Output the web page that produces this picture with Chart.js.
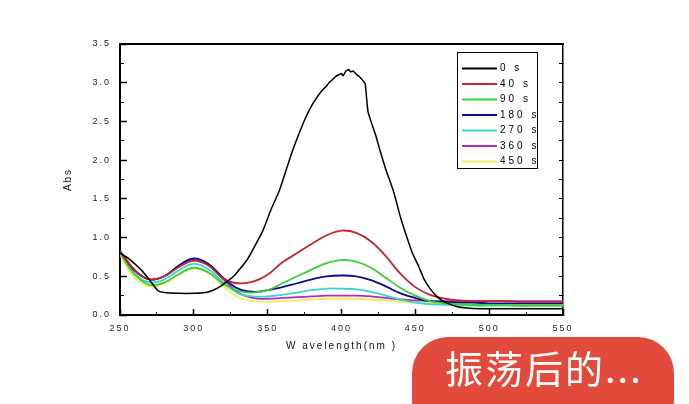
<!DOCTYPE html>
<html>
<head>
<meta charset="utf-8">
<script src="https://cdn.jsdelivr.net/npm/chart.js@4/dist/chart.umd.min.js"></script>
<style>
  html, body { margin: 0; padding: 0; background: #fff; }
  #wrap { position: relative; width: 689px; height: 404px; overflow: hidden; }
  #badge {
    position: absolute; left: 412px; top: 337px; width: 262px; height: 100px;
    border-radius: 36px; background: #e24b3b; color: #fff;
    font-family: "Noto Sans CJK SC", sans-serif; font-size: 38px;
    line-height: 46px; padding: 7px 0 0 33px; box-sizing: border-box;
    letter-spacing: 2px; white-space: nowrap;
  }
</style>
</head>
<body>
<div id="wrap">
  <canvas id="myChart" width="689" height="404"></canvas>
  <div id="badge">振荡后的...</div>
</div>
<script>
// wavelength grid for the coloured spectra (nm)
var wl = [250,260,270,280,290,300,310,320,330,340,350,360,370,380,390,400,
          410,420,430,440,450,460,470,480,490,500,510,520,530,540,550];

var s40  = [0.82,0.58,0.46,0.50,0.62,0.70,0.64,0.47,0.41,0.43,0.52,0.68,0.80,0.92,1.03,1.09,
            1.06,0.95,0.76,0.53,0.36,0.26,0.21,0.19,0.18,0.18,0.18,0.17,0.17,0.17,0.17];
var s90  = [0.80,0.52,0.39,0.42,0.53,0.61,0.55,0.40,0.31,0.29,0.32,0.41,0.50,0.59,0.67,0.71,
            0.69,0.61,0.48,0.35,0.25,0.18,0.15,0.14,0.13,0.13,0.13,0.12,0.12,0.12,0.12];
var s180 = [0.82,0.57,0.46,0.50,0.64,0.73,0.66,0.48,0.34,0.30,0.32,0.36,0.41,0.46,0.50,0.51,
            0.50,0.45,0.37,0.28,0.22,0.18,0.17,0.16,0.16,0.15,0.15,0.15,0.15,0.15,0.15];
var s270 = [0.80,0.53,0.42,0.46,0.58,0.66,0.59,0.42,0.28,0.24,0.24,0.26,0.29,0.32,0.34,0.34,
            0.33,0.30,0.25,0.20,0.16,0.14,0.13,0.13,0.12,0.12,0.12,0.12,0.12,0.12,0.12];
var s360 = [0.83,0.58,0.46,0.50,0.64,0.72,0.64,0.46,0.29,0.22,0.21,0.22,0.23,0.24,0.25,0.25,
            0.25,0.24,0.22,0.20,0.19,0.18,0.18,0.18,0.18,0.18,0.18,0.18,0.18,0.18,0.18];
var s450 = [0.78,0.48,0.37,0.40,0.52,0.60,0.54,0.37,0.23,0.18,0.17,0.18,0.19,0.20,0.21,0.21,
            0.21,0.20,0.19,0.17,0.16,0.15,0.15,0.15,0.14,0.14,0.14,0.14,0.14,0.14,0.14];

// the 0 s spectrum is noisier, read on a finer grid
var wl0 = [250,255,260,265,268,272,276,280,290,300,308,313,318,323,327,331,336,341,347,352,
           358,363,367,372,376,380,383,386,389,392,394,396,398,400,401,403,405,406,408,410,
           412,414,416,417,418,420,423,426,430,435,440,444,448,452,456,460,464,468,472,478,
           485,495,500,520,550];
var s0  = [0.80,0.74,0.66,0.57,0.50,0.40,0.31,0.29,0.28,0.28,0.29,0.32,0.37,0.44,0.50,0.59,
           0.71,0.88,1.10,1.35,1.61,1.90,2.13,2.38,2.56,2.71,2.80,2.88,2.94,3.01,3.04,3.08,
           3.10,3.12,3.09,3.15,3.17,3.14,3.15,3.11,3.08,3.04,2.99,2.80,2.62,2.50,2.33,2.13,
           1.88,1.61,1.26,1.02,0.80,0.64,0.46,0.34,0.25,0.19,0.15,0.11,0.09,0.08,0.08,0.08,0.08];

var labels = ['0 s','40 s','90 s','180 s','270 s','360 s','450 s'];
var colors = ['#000000','#c0282e','#3ccf3c','#0c0c8c','#36d8cc','#b02cb0','#f5e860'];

function pts(xs, ys) {
  return xs.map(function (x, i) { return {x: x, y: ys[i]}; });
}

var series = [pts(wl0, s0), pts(wl, s40), pts(wl, s90), pts(wl, s180),
              pts(wl, s270), pts(wl, s360), pts(wl, s450)];

var tickFont = {family: 'Liberation Sans', size: 9};

var boxLegend = {
  id: 'boxLegend',
  beforeDraw: function (chart) { chart.ctx.letterSpacing = '2px'; },
  afterDraw: function (chart) {
    var ctx = chart.ctx;
    ctx.save();
    ctx.strokeStyle = '#000';
    ctx.lineWidth = 1;
    ctx.strokeRect(457.5, 52.5, 80, 116);
    ctx.font = '10px "Liberation Sans"';
    ctx.letterSpacing = '3px';
    ctx.textBaseline = 'middle';
    ctx.fillStyle = '#000';
    chart.data.datasets.forEach(function (ds, i) {
      var y = 68.5 + i * 15.5;
      ctx.strokeStyle = ds.borderColor;
      ctx.lineWidth = 2;
      ctx.beginPath();
      ctx.moveTo(462, y);
      ctx.lineTo(497, y);
      ctx.stroke();
      ctx.fillText(ds.label, 500, y);
    });
    ctx.restore();
  }
};

var ctx = document.getElementById('myChart').getContext('2d');
var myChart = new Chart(ctx, {
  type: 'line',
  data: {
    datasets: series.map(function (d, i) {
      return {
        label: labels[i],
        data: d,
        borderColor: colors[i],
        backgroundColor: colors[i],
        borderWidth: i === 0 ? 1.5 : 1.8,
        pointRadius: 0,
        tension: i === 0 ? 0.15 : 0.4,
        fill: false
      };
    })
  },
  options: {
    responsive: false,
    animation: false,
    layout: {padding: {left: 0, top: 44, right: 126, bottom: 0}},
    plugins: {
      legend: {display: false},
      tooltip: {enabled: false}
    },
    scales: {
      x: {
        type: 'linear', position: 'bottom', weight: 1,
        min: 250, max: 550,
        ticks: {stepSize: 50, font: tickFont, color: '#222', padding: 14, maxRotation: 0},
        grid: {drawOnChartArea: false, tickLength: -6, tickWidth: 1.5, tickColor: '#000'},
        border: {color: '#000', width: 2},
        title: {display: true, text: 'W avelength(nm )',
                font: {family: 'Liberation Sans', size: 10}, color: '#111',
                padding: {top: 0, bottom: 52}},
        afterFit: function (s) { s.height = 89; }
      },
      xMinor: {
        type: 'linear', position: 'bottom', weight: 0,
        min: 250, max: 550,
        ticks: {stepSize: 25, display: false},
        grid: {drawOnChartArea: false, tickLength: -3, tickColor: '#000'},
        border: {display: false},
        afterFit: function (s) { s.height = 0; }
      },
      xTop: {
        type: 'linear', position: 'top',
        min: 250, max: 550,
        ticks: {display: false},
        grid: {drawOnChartArea: false, drawTicks: false},
        border: {color: '#000', width: 2},
        afterFit: function (s) { s.height = 0; }
      },
      y: {
        position: 'left', weight: 1,
        min: 0, max: 3.5,
        ticks: {stepSize: 0.5, font: tickFont, color: '#222', padding: 16,
                callback: function (v) { return v.toFixed(1); }},
        grid: {drawOnChartArea: false, tickLength: -7, tickWidth: 1.5, tickColor: '#000'},
        border: {color: '#000', width: 2},
        title: {display: true, text: 'Abs',
                font: {family: 'Liberation Sans', size: 10}, color: '#111',
                padding: {top: 62, bottom: 0}},
        afterFit: function (s) { s.width = 120; }
      },
      yMinor: {
        position: 'left', weight: 0,
        min: 0, max: 3.5,
        ticks: {stepSize: 0.25, display: false},
        grid: {drawOnChartArea: false, tickLength: -4, tickColor: '#000'},
        border: {display: false},
        afterFit: function (s) { s.width = 0; }
      },
      yRight: {
        position: 'right',
        min: 0, max: 3.5,
        ticks: {stepSize: 0.25, display: false},
        grid: {drawOnChartArea: false, tickLength: -4, tickColor: '#000'},
        border: {color: '#000', width: 1.5},
        afterFit: function (s) { s.width = 0; }
      }
    }
  },
  plugins: [boxLegend]
});
</script>
</body>
</html>
